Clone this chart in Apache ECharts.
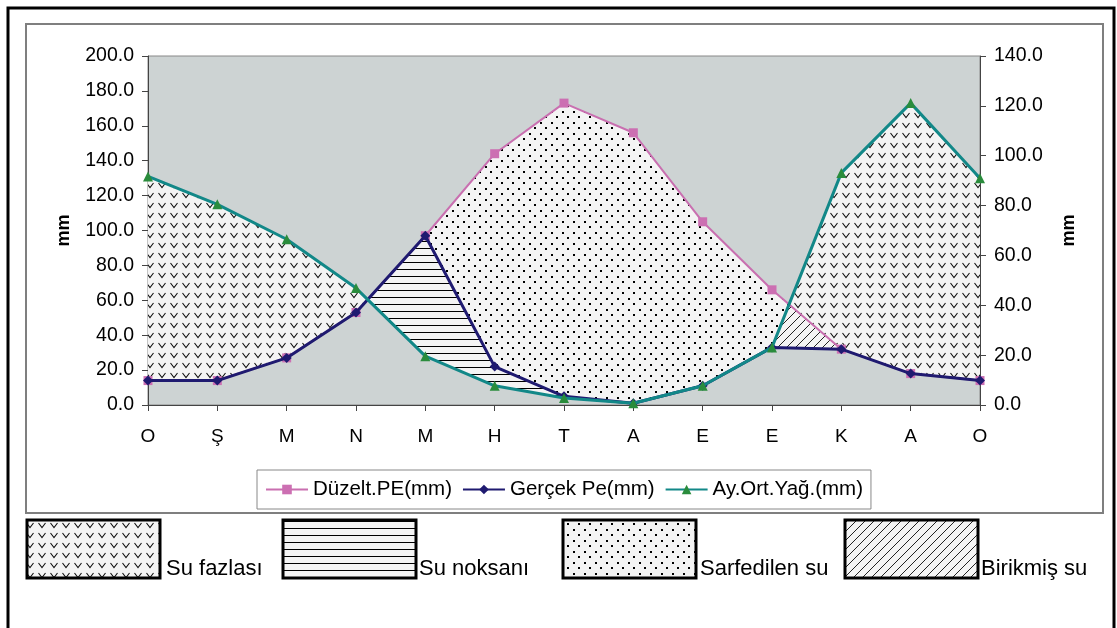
<!DOCTYPE html>
<html><head><meta charset="utf-8">
<script src="https://cdn.jsdelivr.net/npm/echarts@6/dist/echarts.min.js"></script>
<style>html,body{margin:0;padding:0;background:#fff}#c{width:1117px;height:628px}</style>
</head><body><div id="c"></div>
<script>
// ---- data ----
const months = ['O','Ş','M','N','M','H','T','A','E','E','K','A','O'];
const duzeltPE = [14,14,27,53,97,144,173,156,105,66,32,18,14];
const gercekPE = [14,14,27,53,97,22,5,1,11,33,32,18,14];
const yagis    = [131,115,95,67,28,11,4,1,11,33,133,173,130];
const seriesNames = ['Düzelt.PE(mm)','Gerçek Pe(mm)','Ay.Ort.Yağ.(mm)'];
const areaNames = ['Su fazlası','Su noksanı','Sarfedilen su','Birikmiş su'];
const leftAxisMax = 200, rightAxisMax = 140, tickStep = 20;
const axisName = 'mm';

const FONT = '"Liberation Sans", Arial, sans-serif';

// ---- fill patterns ----
function makePattern(w,h,draw){
  const c=document.createElement('canvas'); c.width=w; c.height=h;
  const g=c.getContext('2d'); g.fillStyle='#f4f4f4'; g.fillRect(0,0,w,h); draw(g);
  return {image:c, repeat:'repeat'};
}
const patV = makePattern(12,10,g=>{g.strokeStyle='#111';g.lineWidth=1.1;g.beginPath();g.moveTo(2.5,3);g.lineTo(6,7.5);g.lineTo(9.5,3);g.stroke();});
const patH = makePattern(8,7,g=>{g.fillStyle='#000';g.fillRect(0,3,8,1);});
const patDots = makePattern(11,11,g=>{g.fillStyle='#000';g.fillRect(1,1,2,2);g.fillRect(6,6,2,2);});
const patDiag = makePattern(9,9,g=>{g.strokeStyle='#222';g.lineWidth=1;g.beginPath();g.moveTo(0,9);g.lineTo(9,0);g.moveTo(-1,1);g.lineTo(1,-1);g.moveTo(8,10);g.lineTo(10,8);g.stroke();});

// ---- region polygons derived from the series ----
function at(arr,x){ const i=Math.min(Math.floor(x), arr.length-2); const t=x-i; return arr[i]+(arr[i+1]-arr[i])*t; }
const allSeries=[duzeltPE,gercekPE,yagis];
function regionPoly(U,L,from,to){
  const xs=[];
  for(let i=from;i<to;i++){
    xs.push(i);
    for(let a=0;a<3;a++)for(let b=a+1;b<3;b++){
      const A=allSeries[a],B=allSeries[b];
      const d0=A[i]-B[i], d1=A[i+1]-B[i+1];
      if(d0*d1<0) xs.push(i+d0/(d0-d1));
    }
  }
  xs.push(to); xs.sort((p,q)=>p-q);
  const top=xs.map(x=>[x,Math.max(U(x),L(x))]);
  const bot=xs.map(x=>[x,L(x)]).reverse();
  return top.concat(bot);
}
const regions=[
  {fill:patV,   poly:regionPoly(x=>at(yagis,x), x=>Math.max(at(duzeltPE,x),at(gercekPE,x)),0,12)},
  {fill:patH,   poly:regionPoly(x=>at(gercekPE,x), x=>at(yagis,x),0,6)},
  {fill:patDots,poly:regionPoly(x=>at(duzeltPE,x), x=>Math.max(at(gercekPE,x),at(yagis,x)),0,12)},
  {fill:patDiag,poly:regionPoly(x=>Math.min(at(yagis,x),at(duzeltPE,x)), x=>at(gercekPE,x),8,10)}
];
const legendPatterns=[patV,patH,patDots,patDiag];

const chart = echarts.init(document.getElementById('c'));
const pairs = arr => arr.map((v,i)=>[i,v]);

const boxX=[27,283,563,845], boxW=133, textX=[166,419,700,981];
const graphic=[
  {type:'rect', z:100, shape:{x:26,y:24,width:1077,height:489}, style:{fill:null,stroke:'#7f7f7f',lineWidth:2}},
  {type:'rect', z:100, shape:{x:8,y:8,width:1106,height:660}, style:{fill:null,stroke:'#000',lineWidth:3}}
];
areaNames.forEach((n,i)=>{
  graphic.push({type:'rect', z:100, shape:{x:boxX[i],y:520,width:boxW,height:58}, style:{fill:legendPatterns[i],stroke:'#000',lineWidth:3}});
  graphic.push({type:'text', z:100, x:textX[i], y:580, style:{text:n, font:'22px '+FONT, fill:'#000', verticalAlign:'bottom', align:'left'}});
});

chart.setOption({
  animation:false,
  textStyle:{fontFamily:FONT},
  grid:{left:148,right:137,top:56,bottom:223,show:true,backgroundColor:'#cdd3d3',borderColor:'#888',borderWidth:1},
  xAxis:{type:'value',min:0,max:months.length-1,interval:1,
    axisLine:{lineStyle:{color:'#444',width:1}},
    axisTick:{length:6,lineStyle:{color:'#444'}},
    splitLine:{show:false},
    axisLabel:{margin:22,fontSize:19,color:'#000',formatter:v=>months[v]}},
  yAxis:[
    {type:'value',min:0,max:leftAxisMax,interval:tickStep,position:'left',
     name:axisName,nameLocation:'middle',nameGap:75,nameRotate:90,
     nameTextStyle:{fontSize:18,fontWeight:'bold',color:'#000'},
     axisLine:{show:true,lineStyle:{color:'#444'}},axisTick:{show:true,length:6,lineStyle:{color:'#444'}},
     splitLine:{show:false},axisLabel:{margin:14,fontSize:19.5,color:'#000',formatter:v=>v.toFixed(1)}},
    {type:'value',min:0,max:rightAxisMax,interval:tickStep,position:'right',
     name:axisName,nameLocation:'middle',nameGap:80,nameRotate:90,
     nameTextStyle:{fontSize:18,fontWeight:'bold',color:'#000'},
     axisLine:{show:true,lineStyle:{color:'#444'}},axisTick:{show:true,length:6,lineStyle:{color:'#444'}},
     splitLine:{show:false},axisLabel:{margin:14,fontSize:19.5,color:'#000',formatter:v=>v.toFixed(1)}}
  ],
  legend:{data:seriesNames,left:257,top:470,padding:[9,8],itemGap:10,itemWidth:42,itemHeight:12,
    borderColor:'#888',borderWidth:1,backgroundColor:'#fff',
    textStyle:{fontSize:20.5,color:'#000',fontFamily:FONT}},
  graphic:graphic,
  series:[
    {type:'custom',z:1,silent:true,data:regions.map(()=>[0,0]),
     renderItem:(params,api)=>{const r=regions[params.dataIndex];
       return {type:'polygon',shape:{points:r.poly.map(p=>api.coord(p))},style:{fill:r.fill,stroke:null}};}},
    {name:seriesNames[0],type:'line',z:3,data:pairs(duzeltPE),symbol:'rect',symbolSize:9,
     lineStyle:{color:'#c96fb0',width:2},itemStyle:{color:'#cc6fb2'}},
    {name:seriesNames[1],type:'line',z:4,data:pairs(gercekPE),symbol:'diamond',symbolSize:10,
     lineStyle:{color:'#1f1a70',width:3},itemStyle:{color:'#1f1a70'}},
    {name:seriesNames[2],type:'line',z:5,data:pairs(yagis),symbol:'triangle',symbolSize:10,
     lineStyle:{color:'#128888',width:3},itemStyle:{color:'#2a8c3c'}}
  ]
});
</script></body></html>
